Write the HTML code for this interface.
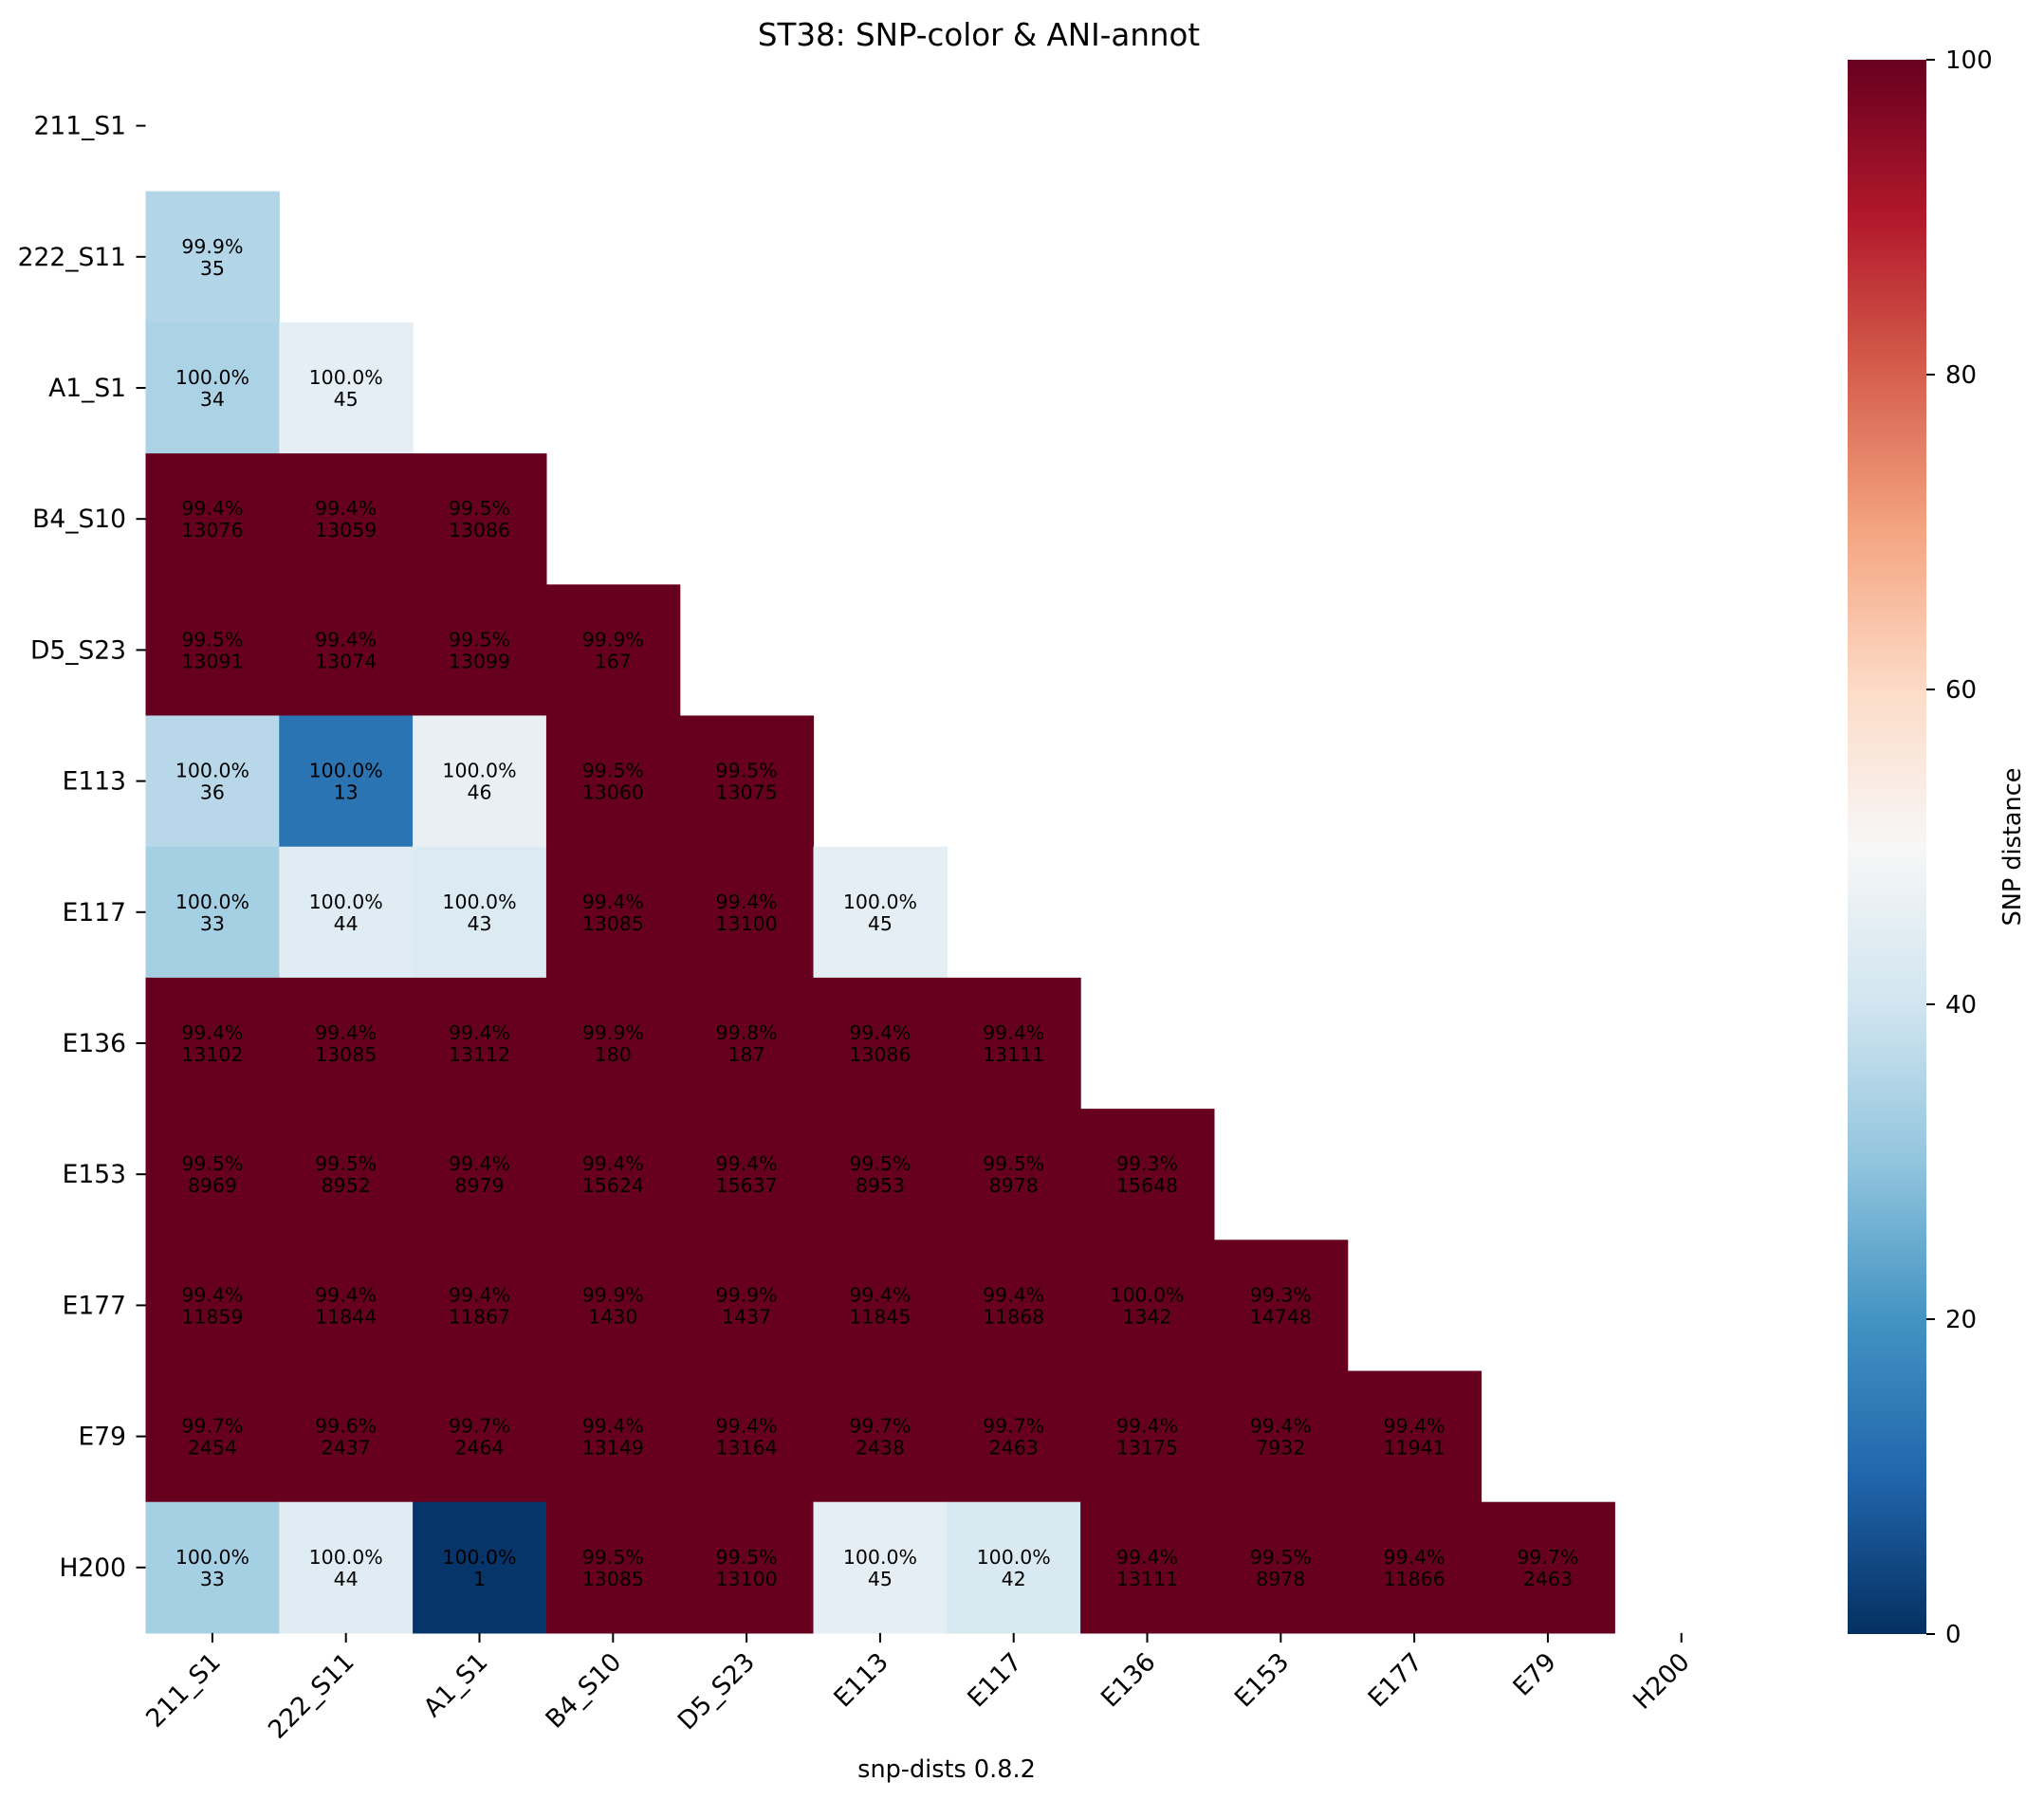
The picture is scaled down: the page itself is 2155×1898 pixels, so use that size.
<!DOCTYPE html>
<html><head><meta charset="utf-8"><style>
html,body{margin:0;padding:0;background:#fff}
svg{display:block;font-family:"DejaVu Sans","Liberation Sans",sans-serif}
</style></head><body>
<svg id="chart" width="2155" height="1898" viewBox="0 0 2155 1898">
<text x="1032" y="48" text-anchor="middle" font-size="32.5">ST38: SNP-color &amp; ANI-annot</text>
<g id="cells"></g>
<g id="yaxis"></g>
<g id="xaxis"></g>
<text x="998" y="1874" text-anchor="middle" font-size="25.5">snp-dists 0.8.2</text>
<defs><linearGradient id="cbgrad" x1="0" y1="1" x2="0" y2="0"></linearGradient></defs>
<rect x="1948" y="63" width="83" height="1660" fill="url(#cbgrad)"></rect>
<g id="cbticks"></g>
<text transform="translate(2130,893) rotate(-90)" text-anchor="middle" font-size="25.5">SNP distance</text>
</svg>
<script>
const labels = ["211_S1","222_S11","A1_S1","B4_S10","D5_S23","E113","E117","E136","E153","E177","E79","H200"];
const snpRows = [
 [],
 [35],
 [34,45],
 [13076,13059,13086],
 [13091,13074,13099,167],
 [36,13,46,13060,13075],
 [33,44,43,13085,13100,45],
 [13102,13085,13112,180,187,13086,13111],
 [8969,8952,8979,15624,15637,8953,8978,15648],
 [11859,11844,11867,1430,1437,11845,11868,1342,14748],
 [2454,2437,2464,13149,13164,2438,2463,13175,7932,11941],
 [33,44,1,13085,13100,45,42,13111,8978,11866,2463]
];
const aniRows = [
 [],
 [99.9],
 [100.0,100.0],
 [99.4,99.4,99.5],
 [99.5,99.4,99.5,99.9],
 [100.0,100.0,100.0,99.5,99.5],
 [100.0,100.0,100.0,99.4,99.4,100.0],
 [99.4,99.4,99.4,99.9,99.8,99.4,99.4],
 [99.5,99.5,99.4,99.4,99.4,99.5,99.5,99.3],
 [99.4,99.4,99.4,99.9,99.9,99.4,99.4,100.0,99.3],
 [99.7,99.6,99.7,99.4,99.4,99.7,99.7,99.4,99.4,99.4],
 [100.0,100.0,100.0,99.5,99.5,100.0,100.0,99.4,99.5,99.4,99.7]
];
const cbTicks = [0,20,40,60,80,100];
const vmin = 0, vmax = 100;

const NS = "http://www.w3.org/2000/svg";
const X0 = 153.5, Y0 = 63.5, CW = 140.8, CH = 138.2;
const xPos = i => X0 + i*CW;
const yPos = j => Y0 + j*CH;
const cbY = v => 1723 - (v - vmin)/(vmax - vmin)*1660;
const stops = ["#053061","#2166ac","#4393c3","#92c5de","#d1e5f0","#f7f7f7","#fddbc7","#f4a582","#d6604d","#b2182b","#67001f"];
function hex(h){return [1,3,5].map(k=>parseInt(h.substr(k,2),16));}
function cmap(v){
  let t = Math.max(0, Math.min(1, (v - vmin)/(vmax - vmin)));
  let p = t*(stops.length-1), i = Math.min(Math.floor(p), stops.length-2), f = p - i;
  const a = hex(stops[i]), b = hex(stops[i+1]);
  return "rgb(" + a.map((c,k)=>Math.round(c+(b[k]-c)*f)).join(",") + ")";
}
function mk(tag, attrs, parent){
  const e = document.createElementNS(NS, tag);
  for (const k in attrs) e.setAttribute(k, attrs[k]);
  parent.appendChild(e); return e;
}
const cells = document.getElementById("cells");
snpRows.forEach((row, r) => {
  row.forEach((v, c) => {
    const rect = mk("rect", {x: xPos(c), y: yPos(r), width: CW+0.6, height: CH+0.6, fill: cmap(v)}, cells);
    
    
    const cx = xPos(c) + CW/2, cy = yPos(r) + CH/2;
    const t1 = mk("text", {x: cx, y: cy - 4, "text-anchor": "middle", "font-size": 20.5}, cells);
    t1.textContent = aniRows[r][c].toFixed(1) + "%";
    
    
    const t2 = mk("text", {x: cx, y: cy + 19, "text-anchor": "middle", "font-size": 20.5}, cells);
    t2.textContent = String(v);
    
    
  });
});
const yaxis = document.getElementById("yaxis");
labels.forEach((l, j) => {
  const cy = yPos(j) + CH/2;
  const tk = mk("line", {x1: X0-10, x2: X0, y1: cy, y2: cy, stroke: "#000", "stroke-width": 2}, yaxis);
  
  
  const t = mk("text", {x: 133, y: cy + 9, "text-anchor": "end", "font-size": 26.5}, yaxis);
  t.textContent = l;
  
  
});
const xaxis = document.getElementById("xaxis");
const YB = Y0 + 12*CH;
labels.forEach((l, i) => {
  const cx = xPos(i) + CW/2;
  const tk = mk("line", {x1: cx, x2: cx, y1: YB, y2: YB+10, stroke: "#000", "stroke-width": 2}, xaxis);
  
  
  const t = mk("text", {transform: "translate(" + (cx+10) + "," + (YB+32) + ") rotate(-45)", "text-anchor": "end", "font-size": 26.5}, xaxis);
  t.textContent = l;
  
  
});
const grad = document.getElementById("cbgrad");
stops.forEach((s, i) => { mk("stop", {offset: (i/(stops.length-1)), "stop-color": s}, grad); });
const cbt = document.getElementById("cbticks");
cbTicks.forEach(v => {
  const y = cbY(v);
  const tk = mk("line", {x1: 2031, x2: 2040, y1: y, y2: y, stroke: "#000", "stroke-width": 2}, cbt);
  
  
  const t = mk("text", {x: 2051, y: y + 9, "font-size": 26}, cbt);
  t.textContent = String(v);
  
  
});
</script>
</body></html>
